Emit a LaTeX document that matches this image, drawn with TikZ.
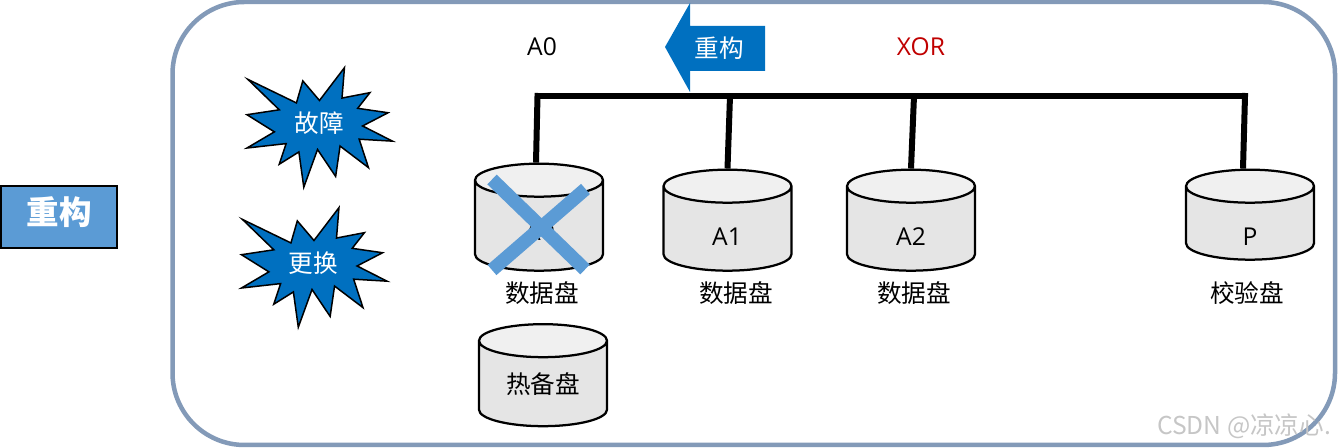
\documentclass[tikz,border=0pt]{standalone}
\usepackage{fontspec}
\setmainfont{Open Sans}
\newfontfamily\cjk{Noto Sans CJK SC}
\usetikzlibrary{shapes.geometric}
\definecolor{framecol}{HTML}{839AB8}
\definecolor{raidblue}{HTML}{0070C0}
\definecolor{lightblue}{HTML}{5B9BD5}
\definecolor{xorred}{HTML}{C00000}
\definecolor{diskbody}{HTML}{E5E5E5}
\definecolor{disktop}{HTML}{F0F0F0}
% one burst, drawn around the point (#1,#2)
\newcommand{\burstshape}[2]{
  \draw[burst, shift={(#1,#2)}, scale=0.98]
    (-1.43,0.93) -- (-0.44,0.45) -- (-0.31,0.90) -- (0.03,0.50) -- (0.54,1.17)
    -- (0.49,0.55) -- (1.06,0.66) -- (0.81,0.34) -- (1.43,0.25) -- (0.91,-0.02)
    -- (1.52,-0.33) -- (0.84,-0.29) -- (1.03,-0.87) -- (0.45,-0.43) -- (0.36,-1.05)
    -- (-0.01,-0.50) -- (-0.29,-1.27) -- (-0.39,-0.55) -- (-0.79,-0.80) -- (-0.65,-0.38)
    -- (-1.45,-0.47) -- (-0.89,-0.14) -- (-1.45,0.21) -- (-0.79,0.31) -- cycle;
}
\begin{document}
\begin{tikzpicture}[
    frame/.style={draw=framecol, line width=0.09cm, rounded corners=1.44cm},
    titlebox/.style={draw=black, line width=0.04cm, fill=lightblue, text=white, font=\cjk\fontsize{18.5}{18.5}\bfseries\selectfont,
      minimum width=2.3cm, minimum height=1.24cm, inner sep=0pt},
    burst/.style={draw=black, fill=raidblue, line width=0.03cm, line join=miter},
    burstlabel/.style={text=white, font=\cjk\fontsize{14}{14}\selectfont, inner sep=0pt},
    disk/.style={cylinder, shape border rotate=90, shape aspect=2, text width=0.33cm, draw=black, line width=0.045cm,
      cylinder uses custom fill, cylinder body fill=diskbody, cylinder end fill=disktop,
      minimum width=2.56cm, inner sep=0pt},
    disklabel/.style={font=\cjk\fontsize{14}{14}\selectfont, inner sep=0pt},
    toplabel/.style={font=\fontsize{14}{14}\selectfont, inner sep=0pt},
    bus/.style={line width=0.12cm},
    cross/.style={draw=lightblue, line width=0.27cm}
  ]
  \useasboundingbox (0,0) rectangle (26.76,8.96);

  % outer frame and title
  \draw[frame] (3.45,0.06) rectangle (26.70,8.92);
  \node[titlebox] (title) at (1.18,4.61) {\raisebox{0.26cm}{重构}};

  % bursts
  \burstshape{6.36}{6.46}
  \burstshape{6.25}{3.66}
  \node[burstlabel] (fault) at (6.38,6.50) {故障};
  \node[burstlabel] (swap) at (6.26,3.70) {更换};

  % disks
  \node[disk, minimum height=2.14cm] (d0) at (10.78,4.44) {};
  \node[disk, minimum height=2.02cm] (d1) at (14.55,4.38) {};
  \node[disk, minimum height=2.02cm] (d2) at (18.22,4.38) {};
  \node[disk, minimum height=1.80cm] (dp) at (25.00,4.49) {};
  \node[disk, minimum height=2.04cm] (dh) at (10.86,1.28) {};

  % disk contents
  \node[toplabel] (l0) at (10.80,4.32) {A0};
  \node[toplabel] (l1) at (14.54,4.22) {A1};
  \node[toplabel] (l2) at (18.22,4.22) {A2};
  \node[toplabel] (lp) at (25.00,4.22) {P};
  \node[disklabel] (lh) at (10.86,1.28) {热备盘};

  % disk captions
  \node[disklabel] (c0) at (10.84,3.10) {数据盘};
  \node[disklabel] (c1) at (14.72,3.10) {数据盘};
  \node[disklabel] (c2) at (18.28,3.10) {数据盘};
  \node[disklabel] (cp) at (24.94,3.10) {校验盘};

  % bus
  \coordinate (b0) at (10.75,7.04);
  \coordinate (b1) at (14.60,7.04);
  \coordinate (b2) at (18.28,7.04);
  \coordinate (bp) at (24.90,7.04);
  \draw[bus, shorten >=-0.05cm] (b0) -- (bp);
  \draw[bus, shorten <=-0.06cm] (b0) -- ([xshift=-0.06cm]d0.top);
  \draw[bus] (b1) -- (d1.top);
  \draw[bus] (b2) -- (d2.top);
  \draw[bus, shorten <=-0.06cm] (bp) -- ([xshift=-0.14cm]dp.top);

  % cross over the failed disk
  \coordinate (x1) at (9.84,5.37);
  \coordinate (x2) at (11.70,3.57);
  \coordinate (x3) at (11.71,5.18);
  \coordinate (x4) at (9.84,3.56);
  \draw[cross] (x1) -- (x2);
  \draw[cross] (x3) -- (x4);

  % rebuild arrow
  \draw[fill=raidblue, draw=none] (13.30,8.02) -- (13.80,8.90) -- (13.80,8.44) -- (15.30,8.44)
    -- (15.30,7.54) -- (13.80,7.54) -- (13.80,7.12) -- cycle;
  \node[burstlabel] (rebuild) at (14.38,7.99) {重构};

  % top labels
  \node[toplabel] (a0) at (10.84,8.02) {A0};
  \node[toplabel, text=xorred] (xor) at (18.42,8.02) {XOR};

  \node[font=\cjk\fontsize{14}{14}\selectfont, text=gray!45, inner sep=0pt] (mark) at (24.88,0.44) {CSDN @凉凉心.};
\end{tikzpicture}
\end{document}
